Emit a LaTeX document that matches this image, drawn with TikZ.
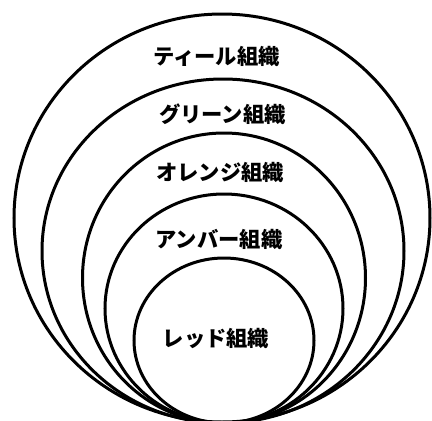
\documentclass[tikz,border=0pt]{standalone}
\usepackage{fontspec}
\newfontfamily\jp{Noto Sans CJK JP}
\tikzset{
  ring/.style={draw=black, line width=3pt},
  label/.style={font=\jp\bfseries\fontsize{21.3pt}{25pt}\selectfont, inner sep=0pt, anchor=center}
}
\begin{document}
\begin{tikzpicture}[x=1pt,y=-1pt]
\useasboundingbox (0,0) rectangle (432,421);
\fill[white] (0,0) rectangle (432,421);
\draw[ring] (222,218) ellipse [x radius=208pt, y radius=204pt];
\draw[ring] (223,251) ellipse [x radius=181pt, y radius=172pt];
\draw[ring] (224,278) ellipse [x radius=141.5pt, y radius=145pt];
\draw[ring] (224,308.5) ellipse [x radius=119pt, y radius=114.5pt];
\draw[ring] (224,340.5) ellipse [x radius=90pt, y radius=82.5pt];
\node[label] (teal) at (216.5,56) {ティール組織};
\node[label] (green) at (222.5,114) {グリーン組織};
\node[label] (orange) at (220,172) {オレンジ組織};
\node[label] (amber) at (219,239) {アンバー組織};
\node[label] (red) at (216,338) {レッド組織};
\end{tikzpicture}
\end{document}
